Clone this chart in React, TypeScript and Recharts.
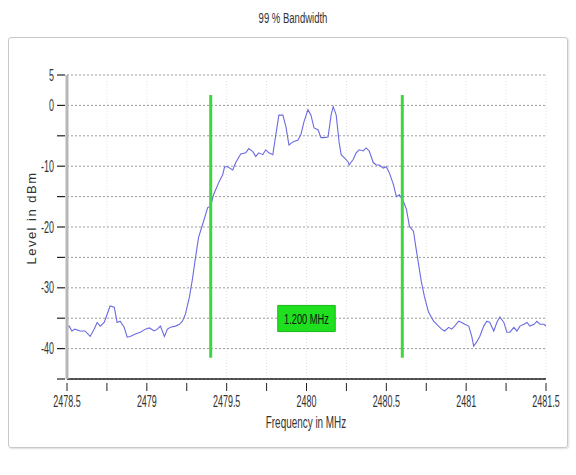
import React from 'react';
import {
  LineChart, Line, XAxis, YAxis, CartesianGrid, ReferenceLine, ReferenceArea,
} from 'recharts';

const freqMHz = [
  2478.500, 2478.513, 2478.531, 2478.550, 2478.582, 2478.613, 2478.645, 2478.670, 2478.689, 2478.708,
  2478.733, 2478.752, 2478.770, 2478.796, 2478.814, 2478.833, 2478.858, 2478.877, 2478.896, 2478.928,
  2478.959, 2478.991, 2479.016, 2479.047, 2479.066, 2479.085, 2479.110, 2479.129, 2479.148, 2479.179,
  2479.204, 2479.223, 2479.242, 2479.267, 2479.286, 2479.305, 2479.324, 2479.355, 2479.381, 2479.399,
  2479.418, 2479.450, 2479.475, 2479.487, 2479.506, 2479.538, 2479.557, 2479.588, 2479.620, 2479.638,
  2479.664, 2479.682, 2479.701, 2479.726, 2479.745, 2479.764, 2479.789, 2479.808, 2479.827, 2479.852,
  2479.871, 2479.890, 2479.915, 2479.947, 2479.965, 2479.984, 2480.009, 2480.028, 2480.047, 2480.072,
  2480.091, 2480.110, 2480.135, 2480.154, 2480.167, 2480.186, 2480.204, 2480.217, 2480.236, 2480.261,
  2480.267, 2480.292, 2480.311, 2480.330, 2480.355, 2480.374, 2480.393, 2480.418, 2480.437, 2480.456,
  2480.481, 2480.500, 2480.519, 2480.544, 2480.563, 2480.582, 2480.607, 2480.626, 2480.645, 2480.670,
  2480.689, 2480.720, 2480.739, 2480.764, 2480.796, 2480.827, 2480.846, 2480.865, 2480.890, 2480.909,
  2480.928, 2480.953, 2480.972, 2480.991, 2481.016, 2481.035, 2481.047, 2481.066, 2481.085, 2481.110,
  2481.129, 2481.148, 2481.173, 2481.192, 2481.211, 2481.236, 2481.255, 2481.274, 2481.299, 2481.318,
  2481.337, 2481.362, 2481.381, 2481.399, 2481.425, 2481.443, 2481.462, 2481.487, 2481.500,
];

const levelDbm = [
  -36.5, -36.3, -37.1, -36.8, -37.1, -37.1, -38.0, -36.8, -35.7, -36.3,
  -35.7, -34.3, -33.0, -33.2, -35.7, -35.5, -36.5, -38.1, -38.0, -37.6,
  -37.3, -36.8, -36.6, -37.1, -36.8, -36.3, -38.0, -36.8, -36.5, -36.3,
  -36.0, -35.5, -34.3, -31.5, -28.5, -25.0, -21.7, -19.1, -16.8, -16.6,
  -14.7, -12.7, -11.4, -10.1, -10.1, -10.6, -9.4, -8.0, -7.8, -7.1,
  -7.6, -8.4, -7.8, -8.1, -7.3, -7.8, -8.1, -4.8, -1.6, -1.6,
  -3.5, -6.5, -6.0, -5.7, -4.8, -2.7, -0.7, -1.6, -3.7, -4.0,
  -5.3, -5.3, -5.2, -1.6, -0.2, -1.6, -6.0, -8.1, -8.6, -9.3,
  -9.8, -8.9, -7.8, -7.3, -7.5, -7.0, -7.5, -9.4, -9.8, -9.8,
  -10.3, -10.1, -11.1, -13.0, -15.0, -14.7, -15.8, -17.1, -19.9, -20.7,
  -24.0, -29.1, -31.5, -34.0, -35.5, -36.3, -36.8, -37.1, -36.5, -36.8,
  -36.3, -35.5, -35.7, -36.0, -36.3, -38.0, -39.6, -38.9, -38.0, -36.3,
  -35.5, -35.7, -37.1, -35.7, -34.8, -35.7, -37.3, -37.3, -36.5, -37.1,
  -36.3, -36.0, -35.7, -36.3, -36.0, -35.5, -36.0, -36.0, -36.3,
];

const xTicks = [2478.5, 2478.75, 2479, 2479.25, 2479.5, 2479.75, 2480, 2480.25, 2480.5, 2480.75, 2481, 2481.25, 2481.5];
const yTicks = [-45, -40, -35, -30, -25, -20, -15, -10, -5, 0, 5];
const markerFreqs = [2479.4, 2480.6];
const markerTop = 1.7;
const markerBottom = -41.5;
const bandwidthLabel = '1.200 MHz';
const boxFreq = [2479.82, 2480.18];
const boxLevel = [-37.2, -32.9];

const data = freqMHz.map((f, i) => ({ f, v: levelDbm[i] }));

const FONT = '"Liberation Sans", Arial, sans-serif';

const XTick = (props: any) => {
  const { x, y, payload } = props;
  const v = payload.value;
  const major = Math.abs(v * 2 - Math.round(v * 2)) < 1e-6;
  return (
    <g>
      <line x1={x} y1={y - 4} x2={x} y2={y + 4} stroke="#222" strokeWidth={1} />
      {major && (
        <text
          transform={`translate(${x},${y + 20}) scale(0.56,1)`}
          textAnchor="middle"
          fontSize={16}
          fill="#333"
          fontFamily={FONT}
        >
          {String(v)}
        </text>
      )}
    </g>
  );
};

const YTick = (props: any) => {
  const { x, y, payload } = props;
  const v = payload.value;
  const show = v === 5 || (v % 10 === 0);
  return (
    <g>
      <line x1={x - 2} y1={y} x2={x + 6} y2={y} stroke="#222" strokeWidth={1.2} />
      {show && (
        <text
          transform={`translate(${x - 5},${y + 5.5}) scale(0.56,1)`}
          textAnchor="end"
          fontSize={16}
          fill="#333"
          fontFamily={FONT}
        >
          {String(v)}
        </text>
      )}
    </g>
  );
};

const BoxLabel = (props: any) => {
  const vb = props.viewBox || {};
  const cx = vb.x + vb.width / 2;
  const cy = vb.y + vb.height / 2;
  return (
    <text
      transform={`translate(${cx},${cy + 5.5}) scale(0.62,1)`}
      textAnchor="middle"
      fontSize={15}
      fill="#111"
      fontFamily={FONT}
    >
      {bandwidthLabel}
    </text>
  );
};

export default function App() {
  return (
    <div style={{ position: 'absolute', left: 0, top: 0, width: 576, height: 475, background: '#fff', fontFamily: FONT }}>
      <div style={{ position: 'absolute', left: 293, top: 18, transform: 'translate(-50%, -50%) scale(0.68, 1)', fontSize: 14, color: '#333', whiteSpace: 'nowrap' }}>
        99 % Bandwidth
      </div>
      <div style={{ position: 'absolute', left: 8, top: 37, width: 558, height: 409, border: '1px solid #c8c8c8', borderRadius: 3, boxShadow: '1px 1px 2px #ddd' }} />
      <div style={{ position: 'absolute', left: 0, top: 0 }}>
        <LineChart width={576} height={475} data={data} margin={{ top: 75, right: 30, bottom: 66, left: 7 }}>
          <CartesianGrid horizontal={false} vertical stroke="#e2e2e2" strokeDasharray="1 2" />
          <CartesianGrid horizontal vertical={false} stroke="#9a9a9a" strokeDasharray="2 2" />
          <XAxis
            dataKey="f"
            type="number"
            domain={[2478.5, 2481.5]}
            ticks={xTicks}
            interval={0}
            tick={<XTick />}
            tickLine={false}
            axisLine={{ stroke: '#222', strokeWidth: 1.5 }}
            height={30}
            allowDataOverflow
          />
          <YAxis
            type="number"
            domain={[-45, 5]}
            ticks={yTicks}
            interval={0}
            tick={<YTick />}
            tickLine={false}
            axisLine={{ stroke: '#b8b8b8', strokeWidth: 3 }}
            width={60}
            allowDataOverflow
          />
          <Line
            type="linear"
            dataKey="v"
            stroke="#6b6be0"
            strokeWidth={1.1}
            dot={false}
            isAnimationActive={false}
          />
          {markerFreqs.map((m) => (
            <ReferenceLine
              key={m}
              segment={[{ x: m, y: markerTop }, { x: m, y: markerBottom }]}
              stroke="#3ed83e"
              strokeWidth={3}
            />
          ))}
          <ReferenceArea
            x1={boxFreq[0]}
            x2={boxFreq[1]}
            y1={boxLevel[0]}
            y2={boxLevel[1]}
            fill="#1fe01f"
            fillOpacity={1}
            stroke="#19b819"
            strokeWidth={1}
            label={<BoxLabel />}
          />
        </LineChart>
      </div>
      <div style={{ position: 'absolute', left: 32, top: 218, transform: 'translate(-50%, -50%) rotate(-90deg)', fontSize: 13, letterSpacing: 1.5, lineHeight: '14px', color: '#333', whiteSpace: 'nowrap' }}>
        Level in dBm
      </div>
      <div style={{ position: 'absolute', left: 306, top: 423, transform: 'translate(-50%, -50%) scale(0.62, 1)', fontSize: 16, color: '#333', whiteSpace: 'nowrap' }}>
        Frequency in MHz
      </div>
    </div>
  );
}
